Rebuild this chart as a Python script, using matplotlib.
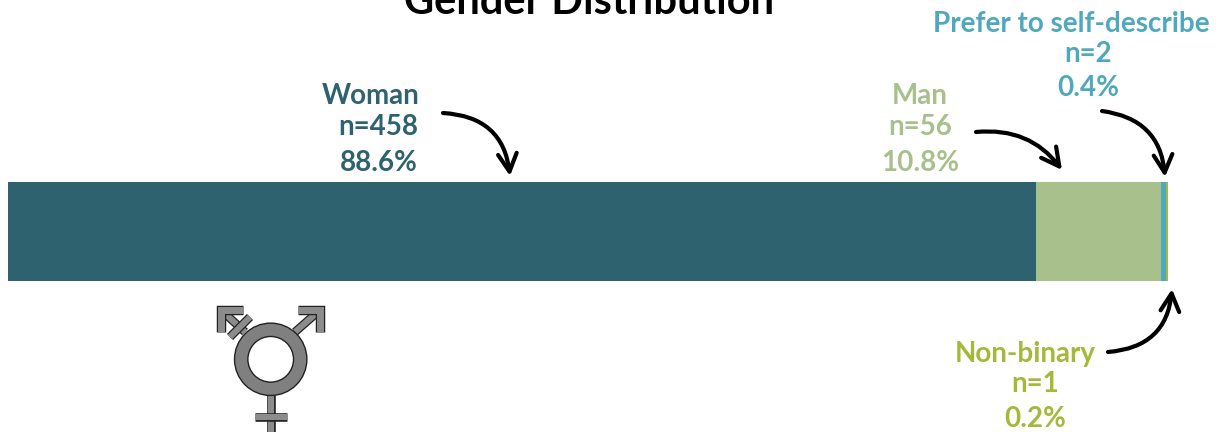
import matplotlib
matplotlib.use("Agg")
import matplotlib.pyplot as plt
import matplotlib.patheffects as pe
from matplotlib.patches import Circle

plt.rcParams['font.family'] = ['Lato', 'DejaVu Sans']

categories = ["Woman", "Man", "Prefer to self-describe", "Non-binary"]
counts = [458, 56, 2, 1]
percents = ["88.6%", "10.8%", "0.4%", "0.2%"]
bar_colors = ["#2E626E", "#A8C08C", "#4FA8BD", "#A5B83A"]
text_colors = ["#2E626E", "#A8C08C", "#4FA8BD", "#A5B83A"]

W, H = 1223, 432
fig = plt.figure(figsize=(W / 100, H / 100), dpi=100)

# the bar gets its own axes, everything else goes on a pixel overlay
ax = fig.add_axes([8 / W, 1 - 281 / H, 1160 / W, 99 / H])
left = 0
for n, c in zip(counts, bar_colors):
    ax.barh(0, n, left=left, height=1, color=c, linewidth=0)
    left += n
ax.set_xlim(0, sum(counts))
ax.set_ylim(-0.5, 0.5)
ax.axis('off')

ov = fig.add_axes([0, 0, 1, 1], zorder=5)
ov.set_xlim(0, W)
ov.set_ylim(H, 0)
ov.axis('off')

# cut by the top edge in the original too
ov.text(589, 14, "Gender Distribution", ha='center', va='baseline', fontsize=30,
        fontweight='bold', color='black')

# label positions, one per category: x of each row, y of each row
label_x = [(371, 378, 379), (920, 920, 920), (1071, 1088, 1088), (1025, 1035, 1035)]
label_y = [(96, 127, 163), (96, 127, 163), (24, 54, 88), (354, 384, 419)]
for i, cat in enumerate(categories):
    rows = [cat, "n=%d" % counts[i], percents[i]]
    for r, x, y in zip(rows, label_x[i], label_y[i]):
        ov.text(x, y, r, ha='center', va='center', fontsize=20, fontweight='bold',
                color=text_colors[i])

arrows = [((443, 113), (510, 176), -0.42),
          ((976, 132), (1062, 170), -0.28),
          ((1102, 111), (1165, 177), -0.40),
          ((1108, 352), (1172, 289), 0.42)]
for a, b, rad in arrows:
    ov.annotate("", xy=b, xytext=a,
                arrowprops=dict(arrowstyle="->,head_length=0.8,head_width=0.42", color='black',
                                lw=3, shrinkA=0, shrinkB=0, mutation_scale=16,
                                connectionstyle="arc3,rad=%g" % rad))

# transgender symbol
stems = [
    ([295, 320], [332, 310]), ([245, 221], [332, 310]),
    ([230, 250], [337, 317]),
    ([270.7, 270.7], [395, 432]), ([255, 287], [417, 417]),
]
heads = [([298, 320, 320], [310, 310, 332]), ([243, 221, 221], [310, 310, 332])]
for xs, ys in stems:
    ov.plot(xs, ys, color='#8C8C8C', lw=4.4, solid_capstyle='butt', solid_joinstyle='miter',
            path_effects=[pe.Stroke(linewidth=6.2, foreground='#222222'), pe.Normal()])
for xs, ys in heads:
    ov.plot(xs, ys, color='#8C8C8C', lw=5, solid_capstyle='butt', solid_joinstyle='miter',
            path_effects=[pe.Stroke(linewidth=6.8, foreground='#222222'), pe.Normal()])
ov.add_patch(Circle((270.7, 359.3), 29.5, fill=False, ec='#222222', lw=10.6, zorder=3))
ov.add_patch(Circle((270.7, 359.3), 29.5, fill=False, ec='#808080', lw=8.6, zorder=4))

fig.savefig("out.png", dpi=100)
